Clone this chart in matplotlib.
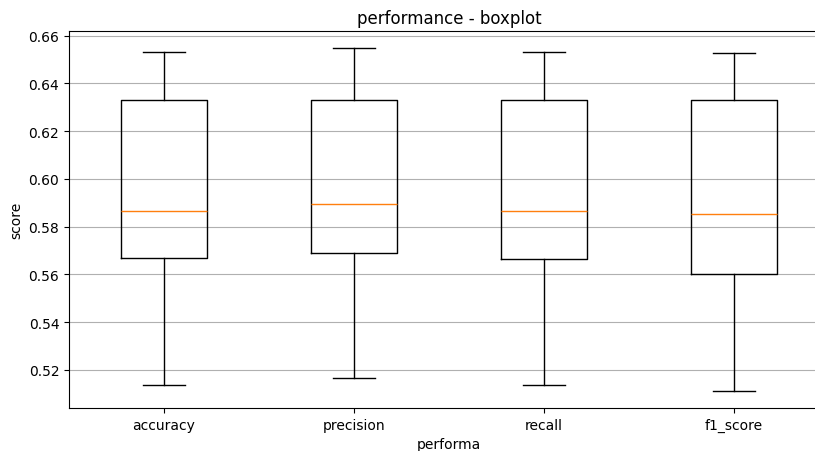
import matplotlib
matplotlib.use("Agg")
import matplotlib.pyplot as plt

# Resumen de cada métrica
metricas = ["accuracy", "precision", "recall", "f1_score"]
minimos = [0.5136, 0.5164, 0.5136, 0.5112]
q1 = [0.5667, 0.5691, 0.5664, 0.5603]
medianas = [0.5867, 0.5895, 0.5865, 0.5853]
q3 = [0.6330, 0.6330, 0.6330, 0.6330]
maximos = [0.6531, 0.6547, 0.6531, 0.6528]

stats = [
    {"label": m, "whislo": lo, "q1": a, "med": me, "q3": b, "whishi": hi, "fliers": []}
    for m, lo, a, me, b, hi in zip(metricas, minimos, q1, medianas, q3, maximos)
]

fig = plt.figure(figsize=(8.15, 4.52), dpi=100)
ax = fig.add_axes([0.0847, 0.0951, 0.9325, 0.834])

ax.bxp(stats, showfliers=False)
ax.yaxis.grid(True)
ax.set_axisbelow(True)

ax.set_title("performance - boxplot")
ax.set_xlabel("performa")
ax.set_ylabel("score")

fig.savefig("out.png", dpi=100)
